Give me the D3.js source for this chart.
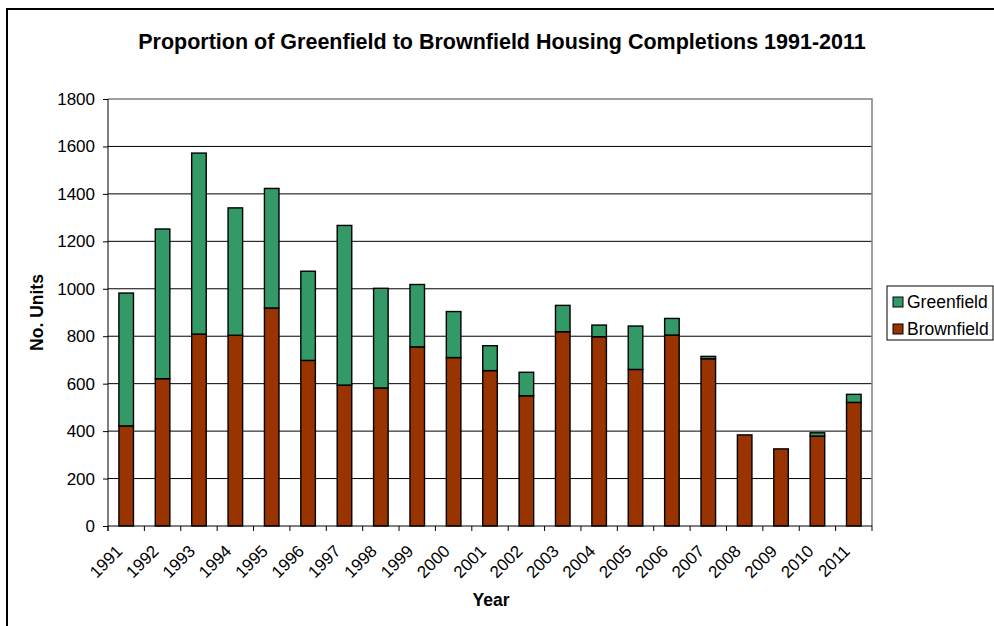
<!DOCTYPE html>
<html>
<head>
<meta charset="utf-8">
<script src="https://cdn.jsdelivr.net/npm/d3@7"></script>
<style>
  body { margin: 0; background: #fff; }
  text { font-family: "Liberation Sans", Arial, sans-serif; fill: #000; }
</style>
</head>
<body>
<div id="chart"></div>
<script>
const years = ["1991", "1992", "1993", "1994", "1995", "1996", "1997", "1998", "1999", "2000",
    "2001", "2002", "2003", "2004", "2005", "2006", "2007", "2008", "2009", "2010", "2011"];
const brownfield = [422, 621, 809, 804, 919, 698, 594, 582, 755, 710,
    655, 549, 819, 798, 660, 805, 705, 384, 325, 379, 521];
const greenfield = [560, 631, 763, 537, 504, 376, 673, 420, 263, 194,
    105, 99, 111, 49, 183, 70, 10, 0, 0, 14, 34];
const yTicks = [0, 200, 400, 600, 800, 1000, 1200, 1400, 1600, 1800];

const W = 994, H = 626;
const margin = { top: 99, left: 108, right: 122, bottom: 100 };
const width = W - margin.left - margin.right;
const height = H - margin.top - margin.bottom;

const colors = { "Greenfield": "#339966", "Brownfield": "#993300" };

const data = years.map((y, i) => ({ year: y, Brownfield: brownfield[i], Greenfield: greenfield[i] }));
const layers = d3.stack().keys(["Brownfield", "Greenfield"])(data);

const svg = d3.select("#chart").append("svg")
    .attr("width", W)
    .attr("height", H);

// outer chart frame (only top/left visible)
svg.append("rect")
    .attr("x", 7).attr("y", 9)
    .attr("width", W + 20).attr("height", H + 20)
    .attr("fill", "none").attr("stroke", "#000").attr("stroke-width", 2);

svg.append("text")
    .attr("x", 502).attr("y", 49)
    .attr("text-anchor", "middle")
    .style("font-size", "21.5px").style("font-weight", "bold")
    .text("Proportion of Greenfield to Brownfield Housing Completions 1991-2011");

const g = svg.append("g").attr("transform", `translate(${margin.left},${margin.top})`);

const x = d3.scaleBand().domain(years).range([0, width]).paddingInner(0).paddingOuter(0);
const y = d3.scaleLinear().domain([0, 1800]).range([height, 0]);
const barW = x.bandwidth() / 2.5;

// gridlines
g.selectAll(".grid")
    .data(yTicks.filter(d => d > 0 && d < 1800))
    .join("line")
    .attr("x1", 0).attr("x2", width)
    .attr("y1", d => y(d)).attr("y2", d => y(d))
    .attr("stroke", "#000").attr("stroke-width", 1);

// plot border top/right
g.append("path")
    .attr("d", `M0,${y(1800)}H${width}V${height}`)
    .attr("fill", "none").attr("stroke", "#808080").attr("stroke-width", 1.5);

// bars
g.selectAll(".layer")
    .data(layers)
    .join("g")
    .attr("class", "layer")
    .attr("fill", l => colors[l.key])
    .selectAll("rect")
    .data(l => l.filter(d => d[1] > d[0]))
    .join("rect")
    .attr("x", d => x(d.data.year) + (x.bandwidth() - barW) / 2)
    .attr("y", d => y(d[1]))
    .attr("width", barW)
    .attr("height", d => y(d[0]) - y(d[1]))
    .attr("stroke", "#000")
    .attr("stroke-width", 1.4);

// y axis
const yAxis = g.append("g")
    .call(d3.axisLeft(y).tickValues(yTicks).tickFormat(d3.format("d")).tickSize(5).tickPadding(8));
yAxis.selectAll("text").style("font-size", "17px").attr("font-family", null);
yAxis.selectAll("line, path").attr("stroke", "#000");
yAxis.select(".domain").attr("d", `M0,${y(1800)}V${height + 5}`);

// x axis with ticks on category boundaries
const xb = g.append("g").attr("transform", `translate(0,${height})`);
xb.append("line").attr("x1", 0).attr("x2", width).attr("stroke", "#000");
xb.selectAll(".tk")
    .data(years.concat(["end"]))
    .join("line")
    .attr("x1", (d, i) => i * x.step()).attr("x2", (d, i) => i * x.step())
    .attr("y1", 0).attr("y2", 5)
    .attr("stroke", "#000");
xb.selectAll(".lbl")
    .data(years)
    .join("text")
    .attr("text-anchor", "end")
    .attr("transform", d => `translate(${x(d) + x.bandwidth() / 2 - 7},${22}) rotate(-45)`)
    .attr("dy", "0.35em")
    .style("font-size", "17px")
    .text(d => d);

svg.append("text")
    .attr("transform", `translate(43,${margin.top + height / 2}) rotate(-90)`)
    .attr("text-anchor", "middle")
    .style("font-size", "17.5px").style("font-weight", "bold")
    .text("No. Units");

svg.append("text")
    .attr("x", 491).attr("y", 606)
    .attr("text-anchor", "middle")
    .style("font-size", "17.5px").style("font-weight", "bold")
    .text("Year");

// legend
const leg = svg.append("g").attr("transform", "translate(887,286)");
leg.append("rect")
    .attr("width", 106).attr("height", 54)
    .attr("fill", "#fff").attr("stroke", "#000").attr("stroke-width", 1);
const items = leg.selectAll(".item")
    .data(["Greenfield", "Brownfield"])
    .join("g")
    .attr("transform", (d, i) => `translate(6,${11 + i * 27})`);
items.append("rect")
    .attr("width", 10).attr("height", 10)
    .attr("fill", d => colors[d]).attr("stroke", "#000");
items.append("text")
    .attr("x", 14).attr("y", 5).attr("dy", "0.35em")
    .style("font-size", "17.5px")
    .text(d => d);
</script>
</body>
</html>
